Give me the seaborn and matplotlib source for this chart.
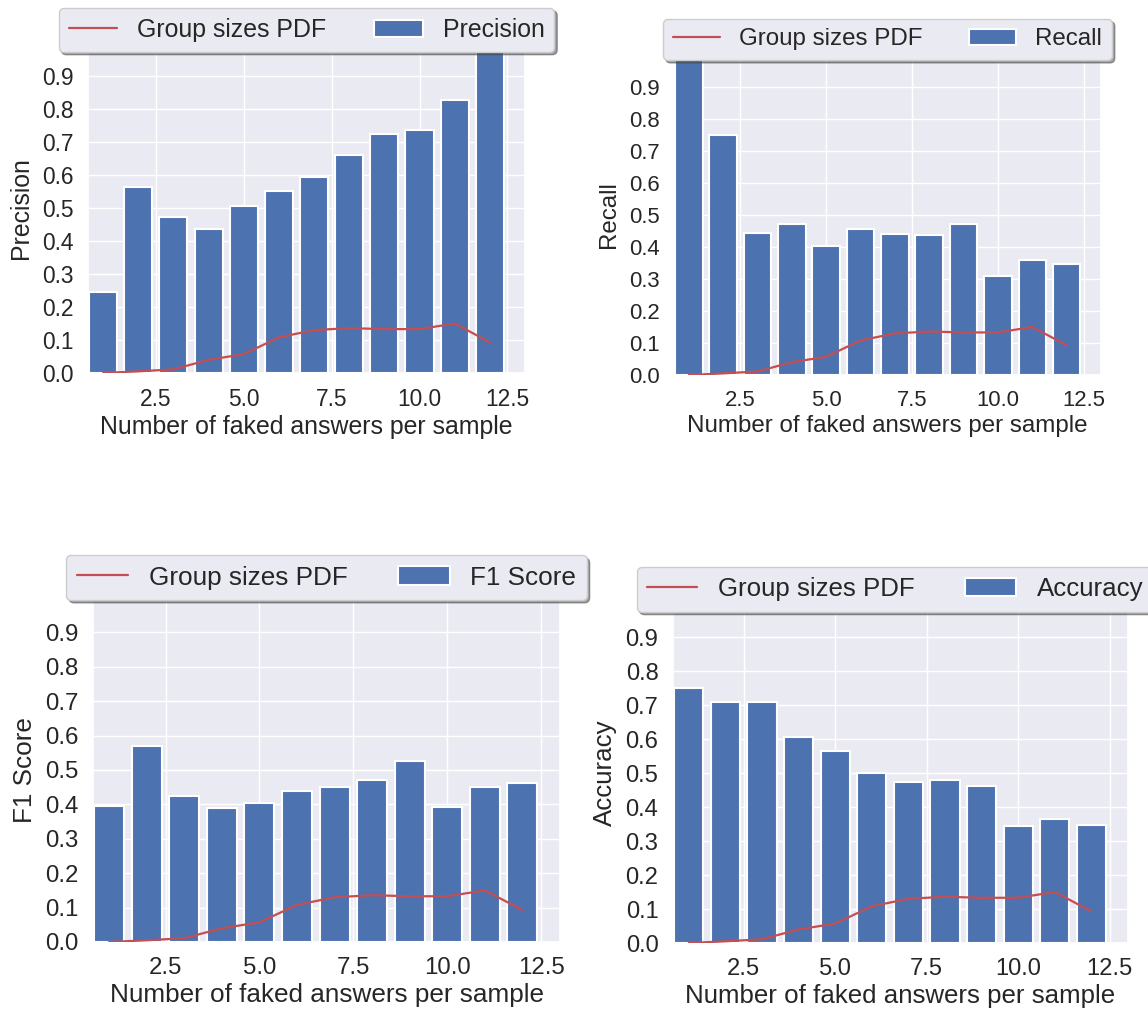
import numpy as np
import pandas as pd
import matplotlib
matplotlib.use("Agg")
import matplotlib.pyplot as plt
import seaborn as sns

# Number of faked answers per sample (bar positions)
n_faked = [1, 2, 3, 4, 5, 6, 7, 8, 9, 10, 11, 12]

# Per-group metrics
precision = [0.245, 0.564, 0.474, 0.437, 0.507, 0.553, 0.594, 0.660, 0.725, 0.736, 0.828, 1.0]
recall = [1.0, 0.751, 0.443, 0.473, 0.404, 0.456, 0.440, 0.438, 0.473, 0.308, 0.359, 0.346]
f1_score = [0.396, 0.571, 0.423, 0.389, 0.405, 0.440, 0.451, 0.472, 0.527, 0.393, 0.451, 0.463]
accuracy = [0.749, 0.708, 0.708, 0.607, 0.564, 0.501, 0.474, 0.480, 0.463, 0.343, 0.364, 0.346]

# Probability density of group sizes
group_pdf = [0.0, 0.005, 0.011, 0.040, 0.057, 0.108, 0.130, 0.136, 0.133, 0.133, 0.150, 0.093]

x_ticks = [2.5, 5.0, 7.5, 10.0, 12.5]
y_ticks = [0.0, 0.1, 0.2, 0.3, 0.4, 0.5, 0.6, 0.7, 0.8, 0.9]
x_label = "Number of faked answers per sample"
pdf_label = "Group sizes PDF"

sns.set_theme(style="darkgrid")
plt.rcParams["font.family"] = ["Liberation Sans", "DejaVu Sans"]

BAR_COLOR = "#4C72B0"
LINE_COLOR = "#C44E52"

W, H = 1148, 1010
fig = plt.figure(figsize=(W / 100, H / 100), dpi=100)

# (metric name, values, left px, right px, top px (y=1), bottom px (y=0),
#  font size, legend anchor x, legend anchor y)
panels = [
    ("Precision", precision, 88, 525, 43, 373, 16.4, 0.5, 0.973),
    ("Recall", recall, 674, 1101, 55, 375, 15.9, 0.5, 0.984),
    ("F1 Score", f1_score, 93, 560, 598, 942, 17.3, 0.5, 0.994),
    ("Accuracy", accuracy, 673, 1128, 603, 943, 17.1, 0.488, 0.974),
]

for name, values, left, right, top, bottom, fs, anchor_x, anchor_y in panels:
    ax = fig.add_axes([left / W, 1 - bottom / H, (right - left) / W, (bottom - top) / H])
    df = pd.DataFrame({"n": n_faked, "value": values, "pdf": group_pdf})

    sns.lineplot(data=df, x="n", y="pdf", color=LINE_COLOR, linewidth=1.6,
                 label=pdf_label, ax=ax, zorder=3)
    sns.barplot(data=df, x="n", y="value", native_scale=True, color=BAR_COLOR,
                saturation=1, width=0.8, errorbar=None, edgecolor="white",
                linewidth=1.5, label=name, ax=ax, zorder=2)

    ax.set_xlim(0.57, 13.0)
    ax.set_ylim(0, 1.0)
    ax.set_xticks(x_ticks)
    ax.set_xticklabels([f"{t:.1f}" for t in x_ticks])
    ax.set_yticks(y_ticks)
    ax.set_yticklabels([f"{t:.1f}" for t in y_ticks])
    ax.tick_params(axis="both", labelsize=fs, length=0, pad=10.5, colors=".15")
    ax.set_xlabel(x_label, fontsize=fs * 1.09, labelpad=3, color=".15")
    ax.set_ylabel(name, fontsize=fs * 1.09, labelpad=6, color=".15")

    ax.legend(loc="lower center", bbox_to_anchor=(anchor_x, anchor_y), ncol=2,
              borderaxespad=0, frameon=True, fancybox=True, shadow=True,
              fontsize=fs * 1.09, facecolor="#EAEAF2", edgecolor="0.8",
              framealpha=1, handlelength=1.95, columnspacing=1.95)

fig.savefig("out.png", dpi=100)
